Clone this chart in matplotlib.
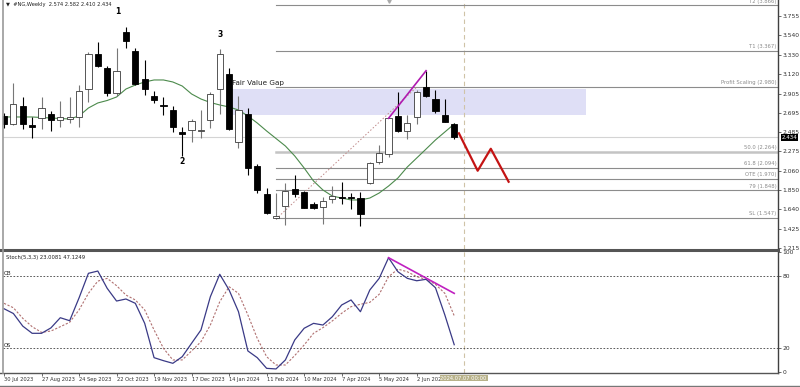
import matplotlib
matplotlib.use("Agg")
import matplotlib.pyplot as plt
from matplotlib.lines import Line2D

# weekly NG candles, 30 Jul 2023 .. 30 Jun 2024
opens = [2.660, 2.569, 2.769, 2.561, 2.641, 2.682, 2.616, 2.624, 2.645, 2.958,
         3.337, 3.187, 2.908, 3.573, 3.373, 3.060, 2.878, 2.777, 2.725, 2.485,
         2.504, 2.496, 2.616, 2.951, 3.115, 2.379, 2.678, 2.114, 1.808, 1.543,
         1.677, 1.866, 1.827, 1.699, 1.669, 1.750, 1.779, 1.779, 1.761, 1.925,
         2.161, 2.245, 2.660, 2.496, 2.645, 2.973, 2.842, 2.671, 2.574]
highs = [2.692, 3.017, 2.864, 2.652, 2.864, 2.714, 2.823, 2.864, 2.995, 3.362,
         3.468, 3.206, 3.399, 3.635, 3.399, 3.271, 2.936, 2.864, 2.769, 2.536,
         2.624, 2.725, 2.925, 3.388, 3.187, 2.878, 2.750, 2.136, 1.870, 1.816,
         1.925, 2.016, 1.841, 1.724, 1.779, 1.895, 1.936, 1.816, 1.833, 2.158,
         2.343, 2.638, 2.925, 2.671, 2.944, 3.154, 2.944, 2.842, 2.582]
lows = [2.529, 2.565, 2.521, 2.416, 2.514, 2.496, 2.536, 2.587, 2.543, 2.816,
        3.198, 2.878, 2.878, 3.399, 2.998, 2.889, 2.798, 2.671, 2.488, 2.223,
        2.379, 2.416, 2.525, 2.682, 2.507, 2.307, 2.016, 1.816, 1.590, 1.535,
        1.470, 1.779, 1.652, 1.641, 1.477, 1.707, 1.699, 1.641, 1.459, 1.917,
        2.136, 2.215, 2.490, 2.412, 2.572, 2.864, 2.689, 2.594, 2.410]
closes = [2.572, 2.787, 2.569, 2.543, 2.750, 2.616, 2.645, 2.645, 2.929, 3.333,
          3.206, 2.914, 3.151, 3.482, 3.009, 2.958, 2.834, 2.769, 2.543, 2.466,
          2.605, 2.504, 2.900, 3.333, 2.514, 2.725, 2.095, 1.852, 1.597, 1.571,
          1.838, 1.805, 1.659, 1.652, 1.735, 1.786, 1.764, 1.761, 1.587, 2.150,
          2.252, 2.635, 2.493, 2.580, 2.925, 2.881, 2.718, 2.597, 2.434]
ma = [2.649, 2.649, 2.649, 2.649, 2.643, 2.638, 2.632, 2.627, 2.660, 2.747,
      2.802, 2.829, 2.867, 2.954, 2.998, 3.031, 3.053, 3.053, 3.031, 2.987,
      2.900, 2.845, 2.807, 2.780, 2.758, 2.725, 2.660, 2.583, 2.496, 2.414,
      2.332, 2.223, 2.092, 1.950, 1.852, 1.786, 1.764, 1.743, 1.743, 1.764,
      1.819, 1.895, 1.983, 2.103, 2.201, 2.299, 2.398, 2.485, 2.572]

stoch_k = [53, 49, 38.5, 32.5, 32.5, 37, 45.5, 43, 62, 82.5,
           84.4, 70, 59.4, 61.1, 57.5, 40.8, 12.2, 9.7, 7.5, 13,
           24.2, 35.3, 63, 81.7, 68.6, 50.5, 17.8, 12.2, 3.3, 2.8,
           10.3, 27, 36.7, 40.8, 39.4, 46.3, 56.1, 60.3, 50.5, 68.6,
           78.3, 95.5, 83.8, 78.3, 76.3, 77.5, 70.5, 47.8, 23.0]
stoch_d = [57.5, 53.8, 45, 38, 33.3, 34.4, 38, 41.7, 52, 65.8,
           76, 78.3, 72.2, 64.4, 60.3, 52, 35.3, 20, 10.3, 10.3,
           17.8, 25.5, 39.4, 58.8, 71.3, 65.8, 47.8, 28.3, 13, 6.1,
           6.1, 14, 22.8, 32.5, 37.2, 42.8, 49.2, 54.7, 56.7, 58.3,
           65, 79.7, 86, 83.8, 79.7, 77.5, 73.3, 65.8, 47.1]

# last label is cut by the cursor date box in the terminal
date_labels = ["30 Jul 2023", "27 Aug 2023", "24 Sep 2023", "22 Oct 2023",
               "19 Nov 2023", "17 Dec 2023", "14 Jan 2024", "11 Feb 2024",
               "10 Mar 2024", "7 Apr 2024", "5 May 2024", "2 Jun 202"]
price_ticks = [3.755, 3.540, 3.330, 3.120, 2.905, 2.695, 2.485, 2.275,
               2.060, 1.850, 1.640, 1.425, 1.215]

fib_names = ["T2", "T1", "Profit Scaling", "50.0", "61.8", "OTE", "79", "SL"]
fib_levels = [3.866, 3.367, 2.980, 2.264, 2.094, 1.970, 1.848, 1.547]
fib_high = 2.976
fvg_low, fvg_high = 2.671, 2.958
swing_names = ["1", "2", "3"]
swing_bars = [12.1, 19, 23]
swing_prices = [3.795, 2.161, 3.544]
proj_bars = [48.5, 50.5, 51.9, 53.8]
proj_prices = [2.471, 2.062, 2.302, 1.942]

n = len(closes)
xs = list(range(n))
FONT = "DejaVu Sans"

fig = plt.figure(figsize=(8, 3.87), dpi=100)
W, H = 800, 387
x_lo, x_hi = -0.107, 82.52


def px_axes(left, top, right, bottom):
    return fig.add_axes([left / W, 1 - bottom / H, (right - left) / W, (bottom - top) / H])


ax = px_axes(3, 0, 778, 249.5)
ax2 = px_axes(3, 251, 778, 372.7)

for a in (ax, ax2):
    a.set_xlim(x_lo, x_hi)
    for s in a.spines.values():
        s.set_visible(False)
    a.spines["right"].set_visible(True)
    a.spines["right"].set_color("#404040")
    a.spines["right"].set_linewidth(1.0)
    a.yaxis.tick_right()
    a.tick_params(axis="y", length=2, width=0.5, pad=1, labelsize=4.3,
                  colors="#303030")

# ---- main price panel
ax.set_ylim(1.2022, 3.926)
ax.set_xticks([])
ax.set_yticks(price_ticks)
ax.set_yticklabels(["%.3f" % p for p in price_ticks], fontfamily=FONT)

# fair value gap box
ax.fill_between([24, 62], fvg_low, fvg_high, color="#dfdff6", lw=0, zorder=1)
ax.text(24.3, fvg_high + 0.03, "Fair Value Gap", fontsize=5.2, color="#202020",
        fontfamily=FONT, va="bottom", ha="left", zorder=6)

# current price line
ax.axhline(closes[-1], color="#d4d4d4", lw=0.8, zorder=1)

# fib / target levels
for name, lvl in zip(fib_names, fib_levels):
    lw = 1.8 if name == "50.0" else 0.8
    col = "#c4c4c4" if name == "50.0" else "#8c8c8c"
    ax.plot([29, x_hi], [lvl, lvl], color=col, lw=lw, zorder=1.5)
    ax.text(x_hi - 0.15, lvl + 0.02, "%s (%.3f)" % (name, lvl), fontsize=3.8,
            color="#8a8a8a", ha="right", va="bottom", fontfamily=FONT)

# fib anchor (dotted)
ax.plot([29, 44], [lows[29], fib_high], color="#c08a8a", lw=0.7, ls=(0, (1.5, 2)),
        zorder=1.8)

# moving average
ax.plot(xs, ma, color="#4c8a4c", lw=0.8, zorder=2)

# candles
for i in range(n):
    o, h, l, c = opens[i], highs[i], lows[i], closes[i]
    up = c >= o
    wick = "#777777" if up else "#000000"
    ax.vlines(i, l, h, color=wick, lw=0.8, zorder=3)
    body_h = max(abs(c - o), 0.008)
    ax.bar(i, body_h, bottom=min(o, c), width=0.66,
           color="white" if up else "black",
           edgecolor="#3a3a3a" if up else "black", lw=0.6, zorder=4)

# divergence line on price
ax.plot([41, 45], [closes[41], highs[45]], color="#b01ab0", lw=1.2, zorder=5)

# projected path
ax.plot(proj_bars, proj_prices, color="#c41414", lw=1.6, zorder=5)

# swing labels
for name, bx, py in zip(swing_names, swing_bars, swing_prices):
    ax.text(bx, py, name, fontsize=5.5, fontweight="bold", ha="center",
            va="center", fontfamily=FONT)

# small arrow at the top
ax.plot(41, 3.915, marker="v", color="#aaaaaa", ms=2.5, zorder=5)

# title
ax.text(0.2, 3.872, "\u25bc  #NG,Weekly  2.574 2.582 2.410 2.434", fontsize=3.7,
        color="#202020", fontfamily=FONT, va="center", ha="left")

# price tag
ax.text(x_hi + 0.35, closes[-1] - 0.01, "%.3f" % closes[-1], fontsize=4.0,
        color="white", fontfamily=FONT, va="center", ha="left", clip_on=False,
        zorder=10, bbox=dict(facecolor="black", edgecolor="none", pad=0.5))

# ---- stochastic panel
ax2.set_ylim(-0.33, 101.1)
ax2.set_yticks([100, 80, 20, 0])
ax2.set_yticklabels(["100", "80", "20", "0"], fontfamily=FONT)
ax2.axhline(80, color="#404040", lw=0.6, ls=(0, (2, 2)))
ax2.axhline(20, color="#404040", lw=0.6, ls=(0, (2, 2)))
ax2.plot(xs, stoch_d, color="#b07070", lw=0.8, ls=(0, (2, 1.5)), zorder=2)
ax2.plot(xs, stoch_k, color="#3a3a86", lw=0.9, zorder=3)
ax2.plot([41, 48], [stoch_k[41], 65.8], color="#c020c0", lw=1.2, zorder=4)

ax2.text(0.2, 96, "Stoch(5,3,3) 23.0081 47.1249", fontsize=3.8, color="#202020",
         fontfamily=FONT, va="center")
ax2.text(0.0, 80, "OB", fontsize=3.8, color="#202020", fontfamily=FONT, va="bottom")
ax2.text(0.0, 20, "OS", fontsize=3.8, color="#202020", fontfamily=FONT, va="bottom")

date_pos = list(range(0, 4 * len(date_labels), 4))
ax2.set_xticks(date_pos)
ax2.set_xticklabels(date_labels, fontfamily=FONT)
ax2.tick_params(axis="x", length=2, width=0.5, pad=1, labelsize=3.7,
                colors="#303030")
for lab in ax2.get_xticklabels():
    lab.set_ha("left")

ax2.text(49, -0.045, "2024.07.07 00:00", transform=ax2.get_xaxis_transform(),
         ha="center", va="center", fontsize=3.7, color="white", fontfamily=FONT,
         zorder=10, clip_on=False,
         bbox=dict(facecolor="#b8b28a", edgecolor="none", pad=0.6))

# vertical dashed marker through both panels
for a in (ax, ax2):
    a.axvline(49, color="#cfc3a6", lw=0.8, ls=(0, (4, 3)), zorder=1)

# frame lines drawn in figure pixels
def fig_line(x0, y0, x1, y1, color, lw):
    fig.add_artist(Line2D([x0 / W, x1 / W], [1 - y0 / H, 1 - y1 / H],
                          color=color, lw=lw))


fig_line(0, 250.3, 778, 250.3, "#555555", 2.2)
fig_line(0, 372.7, 778, 372.7, "#555555", 1.0)
fig_line(2.5, 0, 2.5, 373, "#9a9a9a", 1.2)
fig_line(0, 385.8, 800, 385.8, "#777777", 1.0)

fig.savefig("out.png", dpi=100, facecolor="white")
